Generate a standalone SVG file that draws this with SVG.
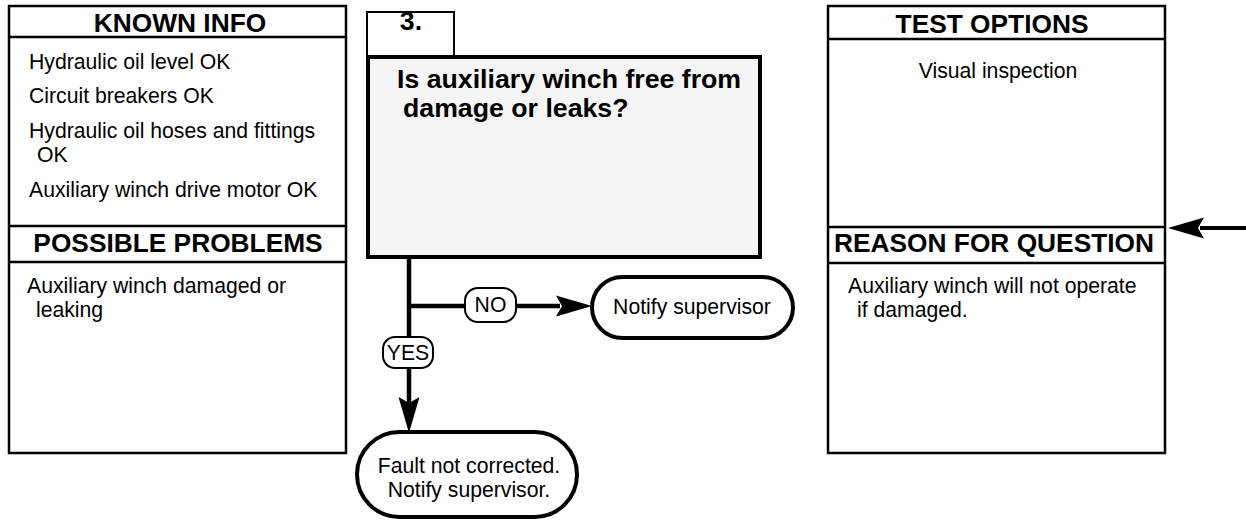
<svg xmlns="http://www.w3.org/2000/svg" width="1246" height="521" viewBox="0 0 1246 521">
  <style>
    .frame { fill: #ffffff; stroke: #000000; stroke-width: 2.5; }
    .rule { stroke: #000000; stroke-width: 2.5; }
    .head { font-family: "Liberation Sans", Arial, sans-serif; font-weight: bold; font-size: 26.3px; fill: #000000; text-anchor: middle; }
    .body { font-family: "Liberation Sans", Arial, sans-serif; font-size: 21.2px; fill: #000000; }
    .ask { font-family: "Liberation Sans", Arial, sans-serif; font-weight: bold; font-size: 26.7px; fill: #000000; }
    .flow { fill: none; stroke: #000000; stroke-width: 4.5; }
    .term { fill: #ffffff; stroke: #000000; stroke-width: 4; }
    .tag { fill: #ffffff; stroke: #000000; stroke-width: 2; }
    .mid { text-anchor: middle; }
  </style>
  <defs>
    <path id="head-arrow" d="M0,0 L-36,-10.5 L-30,0 L-36,10.5 Z" fill="#000000"/>
  </defs>

  <!-- Left column: known info / possible problems -->
  <g id="known-info">
    <rect class="frame" x="9" y="6" width="337" height="447"/>
    <line class="rule" x1="9" y1="37" x2="346" y2="37"/>
    <text class="head" x="180" y="32">KNOWN INFO</text>
    <text class="body" x="29" y="69">Hydraulic oil level OK</text>
    <text class="body" x="29" y="103">Circuit breakers OK</text>
    <text class="body" x="29" y="138">Hydraulic oil hoses and fittings</text>
    <text class="body" x="37" y="162">OK</text>
    <text class="body" x="29" y="197">Auxiliary winch drive motor OK</text>
  </g>
  <g id="possible-problems">
    <line class="rule" x1="9" y1="226" x2="346" y2="226"/>
    <line class="rule" x1="9" y1="262" x2="346" y2="262"/>
    <text class="head" x="178" y="252">POSSIBLE PROBLEMS</text>
    <text class="body" x="27" y="293">Auxiliary winch damaged or</text>
    <text class="body" x="36" y="317">leaking</text>
  </g>

  <!-- Right column: test options / reason for question -->
  <g id="test-options">
    <rect class="frame" x="828" y="6" width="337" height="447"/>
    <line class="rule" x1="828" y1="39" x2="1165" y2="39"/>
    <text class="head" x="992" y="33">TEST OPTIONS</text>
    <text class="body mid" x="998" y="78">Visual inspection</text>
  </g>
  <g id="reason-for-question">
    <line class="rule" x1="828" y1="227" x2="1165" y2="227"/>
    <line class="rule" x1="828" y1="263" x2="1165" y2="263"/>
    <text class="head" x="994" y="252">REASON FOR QUESTION</text>
    <text class="body" x="848" y="293">Auxiliary winch will not operate</text>
    <text class="body" x="857" y="317">if damaged.</text>
  </g>

  <!-- Step 3 question -->
  <g id="step-number">
    <rect x="367" y="12" width="87" height="44" fill="#ffffff" stroke="#000000" stroke-width="2"/>
    <text class="ask mid" x="411" y="30">3.</text>
  </g>
  <g id="question">
    <rect x="368" y="57" width="392" height="200" fill="#f5f5f5" stroke="#000000" stroke-width="4"/>
    <text class="ask" x="397" y="88">Is auxiliary winch free from</text>
    <text class="ask" x="403" y="117">damage or leaks?</text>
  </g>

  <!-- Connectors -->
  <g id="connectors">
    <line class="flow" x1="409" y1="257" x2="409" y2="404"/>
    <line class="flow" x1="409" y1="306" x2="560" y2="306"/>
    <use href="#head-arrow" transform="translate(592,306)"/>
    <use href="#head-arrow" transform="translate(409,433) rotate(90)"/>
    <line x1="1200" y1="228" x2="1246" y2="228" stroke="#000000" stroke-width="4"/>
    <use href="#head-arrow" transform="translate(1168,228) rotate(180)"/>
  </g>

  <g id="label-no">
    <rect class="tag" x="465" y="288" width="51" height="34" rx="13"/>
    <text class="body mid" x="490.5" y="312">NO</text>
  </g>
  <g id="label-yes">
    <rect class="tag" x="383" y="337" width="50" height="31" rx="12"/>
    <text class="body mid" x="408" y="360">YES</text>
  </g>

  <!-- Outcomes -->
  <g id="notify-supervisor">
    <rect class="term" x="592" y="277" width="201" height="61" rx="30.5"/>
    <text class="body mid" x="692" y="314">Notify supervisor</text>
  </g>
  <g id="fault-not-corrected">
    <rect class="term" x="357" y="432" width="220" height="85" rx="42.5"/>
    <text class="body mid" x="469" y="473">Fault not corrected.</text>
    <text class="body mid" x="469" y="497">Notify supervisor.</text>
  </g>
</svg>
